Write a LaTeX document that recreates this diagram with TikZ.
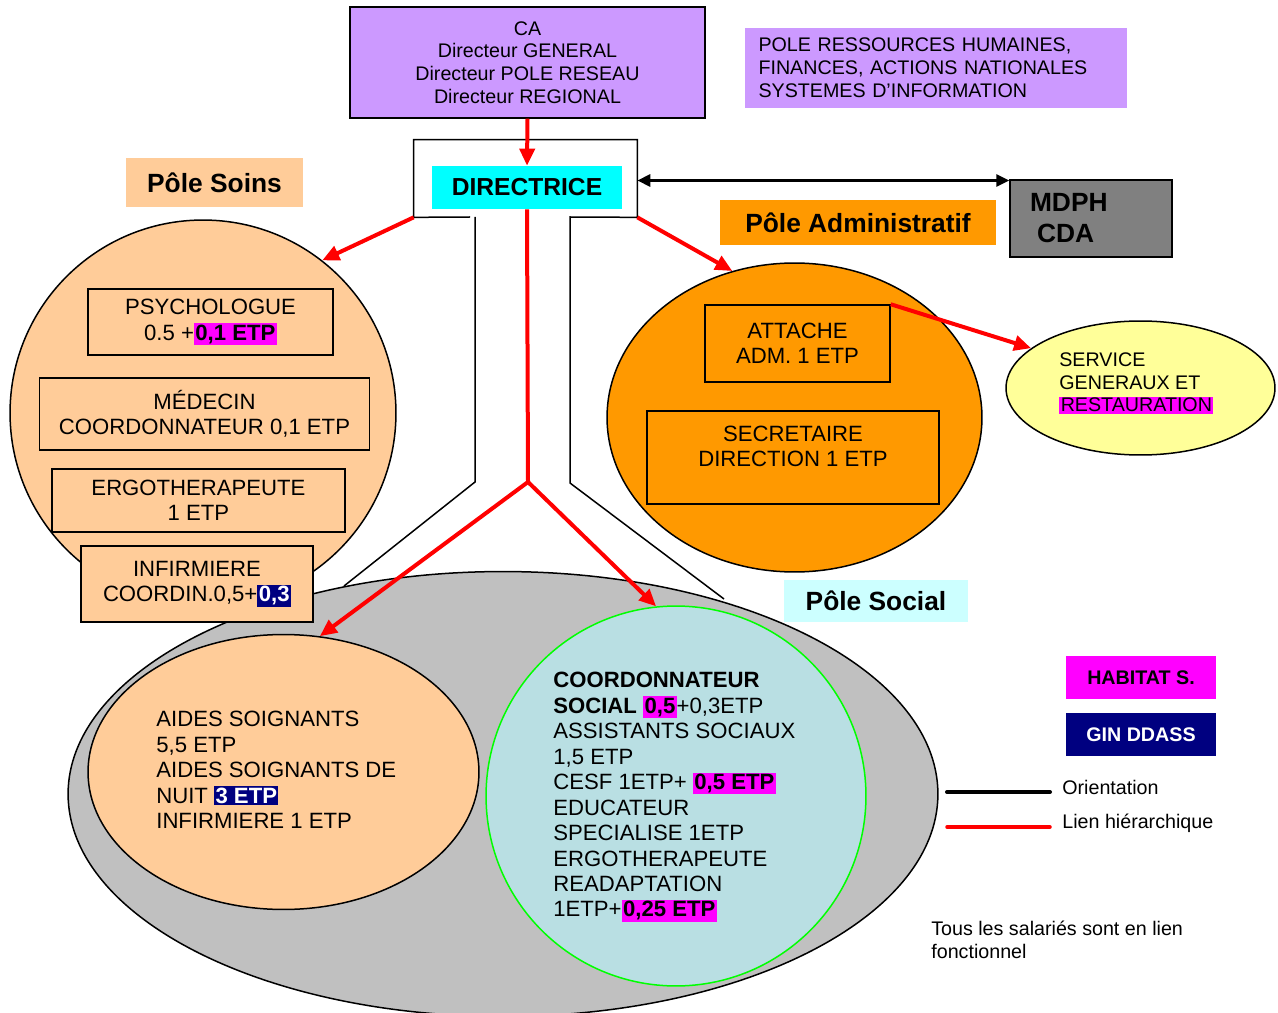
\documentclass[tikz,border=0pt]{standalone}
\usepackage{fontspec}
\setmainfont{Liberation Sans}
\usetikzlibrary{calc}
\usetikzlibrary{arrows.meta}
\usetikzlibrary{shapes.geometric}

\definecolor{mauve}{HTML}{CC99FF}
\definecolor{peche}{HTML}{FFCC99}
\definecolor{orangepole}{HTML}{FF9900}
\definecolor{grisfond}{HTML}{C0C0C0}
\definecolor{bleuclair}{HTML}{B9DFE3}
\definecolor{vertvif}{HTML}{00FF00}
\definecolor{jaunepale}{HTML}{FFFF99}
\definecolor{cyanvif}{HTML}{00FFFF}
\definecolor{cyanpale}{HTML}{CCFFFF}
\definecolor{grismdph}{HTML}{808080}
\definecolor{marine}{HTML}{000080}
\definecolor{rose}{HTML}{FF00FF}

\setlength{\fboxsep}{0.8pt}
\newcommand{\surlig}[1]{\colorbox{rose}{\textbf{#1}}}
\newcommand{\surligb}[1]{\colorbox{marine}{\textcolor{white}{\textbf{#1}}}}

\tikzstyle{boite}  =[draw, line width=0.3mm]
\tikzstyle{hier}   =[draw=red, line width=0.8mm, -{Triangle[length=3.4mm,width=3mm]}]
\tikzstyle{orient} =[line width=0.6mm, {Triangle[length=2.6mm,width=2.4mm]}-{Triangle[length=2.6mm,width=2.4mm]}]
\tikzstyle{texte}  =[font=\fontsize{12.6}{14.5}\selectfont]
\tikzstyle{petit}  =[font=\fontsize{11.2}{13}\selectfont]
\tikzstyle{titre}  =[font=\fontsize{15}{17}\selectfont\bfseries]
\tikzstyle{bloc}   =[inner sep=0, align=left, anchor=west]

\begin{document}
\begin{tikzpicture}[x=0.02cm,y=-0.02cm]
\useasboundingbox (0,0) rectangle (1278,1013);

%%%%%%%%%%%%%%%%%%%%%%%%
%cadre de la direction (en entonnoir)
%%%%%%%%%%%%%%%%%%%%%%%%
\node[minimum width=4.46cm,minimum height=1.54cm,inner sep=0] (cadre) at (525.5,178.5) {};
\draw[boite] (470,217) -- (cadre.south west) -- (cadre.north west) -- (cadre.north east) -- (cadre.south east) -- (570,217) -- (570,483) -- (724,599);
\draw[boite] (475,217) -- (475,482) -- (344,586);

%%%%%%%%%%%%%%%%%%%%%%%%
%pôle social (grande ellipse grise)
%%%%%%%%%%%%%%%%%%%%%%%%
\node[ellipse,boite,fill=grisfond,minimum width=17.4cm,minimum height=8.9cm] (social) at (503,794) {};

%pôle soins
\node[circle,boite,fill=peche,minimum size=7.72cm] (soins) at (203,413) {};
\node[boite,fill=peche,texte,align=center,minimum width=4.9cm,minimum height=1.32cm] (psy) at (210.5,322) {PSYCHOLOGUE\\0.5 +\surlig{0,1 ETP}};
\node[boite,fill=peche,texte,align=center,minimum width=6.6cm,minimum height=1.44cm] (med) at (204.5,414) {MÉDECIN\\COORDONNATEUR 0,1 ETP};
\node[boite,fill=peche,texte,align=center,minimum width=5.86cm,minimum height=1.26cm] (ergo) at (198.5,500.5) {ERGOTHERAPEUTE\\1 ETP};
\node[boite,fill=peche,texte,align=center,minimum width=4.64cm,minimum height=1.52cm] (inf) at (197,584) {INFIRMIERE\\COORDIN.0,5+\surligb{0,3}};

%aides soignants
\node[ellipse,boite,fill=peche,minimum width=7.82cm,minimum height=5.5cm] (aides) at (283.5,772) {};
\node[texte,bloc] (aidestxt) at (156,770) {AIDES SOIGNANTS\\5,5 ETP\\AIDES SOIGNANTS DE\\NUIT \surligb{3 ETP}\\INFIRMIERE 1 ETP};

%travailleurs sociaux
\node[circle,draw=vertvif,line width=0.3mm,fill=bleuclair,minimum size=7.6cm] (socialc) at (676,796) {};
\node[texte,bloc] (socialtxt) at (553,797) {\textbf{COORDONNATEUR}\\\textbf{SOCIAL} \surlig{0,5}+0,3ETP\\ASSISTANTS SOCIAUX\\1,5 ETP\\CESF 1ETP+ \surlig{0,5 ETP}\\EDUCATEUR\\SPECIALISE 1ETP\\ERGOTHERAPEUTE\\READAPTATION\\1ETP+\surlig{0,25 ETP}};

%%%%%%%%%%%%%%%%%%%%%%%%
%pôle administratif
%%%%%%%%%%%%%%%%%%%%%%%%
\node[ellipse,boite,fill=orangepole,minimum width=7.5cm,minimum height=6.18cm] (admin) at (794.5,417.5) {};
\node[boite,fill=orangepole,texte,align=center,minimum width=3.7cm,minimum height=1.54cm] (attache) at (797.5,343.5) {ATTACHE\\ADM. 1 ETP};
\node[boite,fill=orangepole,texte,align=center,minimum width=5.84cm,minimum height=1.86cm] (secr) at (793,457.5) {SECRETAIRE\\DIRECTION 1 ETP\\[-6pt]\strut};
\node[ellipse,boite,fill=jaunepale,minimum width=5.38cm,minimum height=2.68cm] (serv) at (1140.5,388) {};
\node[petit,bloc] (servtxt) at (1059,383) {SERVICE\\GENERAUX ET\\\colorbox{rose}{RESTAURATION}};

%%%%%%%%%%%%%%%%%%%%%%%%
%étiquettes et boîtes du haut
%%%%%%%%%%%%%%%%%%%%%%%%
\node[fill=peche,titre,minimum width=3.54cm,minimum height=0.98cm] (soinslbl) at (214.5,182.5) {Pôle Soins};
\node[fill=orangepole,titre,minimum width=5.52cm,minimum height=0.9cm] (adminlbl) at (858,222.5) {Pôle Administratif};
\node[fill=cyanpale,titre,minimum width=3.68cm,minimum height=0.84cm] (sociallbl) at (876,601) {Pôle Social};

\node[boite,fill=mauve,petit,align=center,minimum width=7.1cm,minimum height=2.22cm] (ca) at (527.5,62.5) {CA\\Directeur GENERAL\\Directeur POLE RESEAU\\Directeur REGIONAL};
\node[fill=mauve,petit,align=left,text width=7.1cm,inner xsep=0.28cm,minimum height=1.6cm] (rh) at (936,68) {POLE RESSOURCES HUMAINES,\\FINANCES, ACTIONS NATIONALES\\SYSTEMES D’INFORMATION};
\node[fill=cyanvif,font=\fontsize{14}{16}\selectfont\bfseries,minimum width=3.8cm,minimum height=0.86cm] (directrice) at (527,187.5) {DIRECTRICE};
\node[boite,fill=grismdph,font=\fontsize{15}{17.6}\selectfont\bfseries,align=left,text width=2.44cm,inner xsep=0.4cm,minimum height=1.54cm] (mdph) at (1091,218.5) {MDPH\\\hspace{4pt}CDA};

%%%%%%%%%%%%%%%%%%%%%%%%
%liens
%%%%%%%%%%%%%%%%%%%%%%%%
\draw[hier] (ca.south) -- (directrice.north);
\draw[hier] (cadre.south west) -- (soins.52);
\draw[hier] (cadre.south east) -- (admin.113);
\coordinate (fourche) at (528,482);
\draw[hier] (directrice.south) -- (fourche) -- (aides.75);
\draw[hier] (fourche) -- (socialc.96);
\draw[hier] (attache.north east) -- (serv.160);
\draw[orient] ($(cadre.east)+(0,2)$) -- ($(cadre.east -| mdph.west)+(0,2)$);

%%%%%%%%%%%%%%%%%%%%%%%%
%légende
%%%%%%%%%%%%%%%%%%%%%%%%
\node[fill=rose,font=\fontsize{11.2}{13}\selectfont\bfseries,minimum width=3cm,minimum height=0.86cm] (habitat) at (1141,677.5) {HABITAT S.};
\node[fill=marine,text=white,font=\fontsize{11.2}{13}\selectfont\bfseries,minimum width=3cm,minimum height=0.86cm] (gin) at (1141,734.5) {GIN DDASS};

\coordinate (l1a) at (947,792);
\coordinate (l1b) at (1050,792);
\draw[line width=0.8mm,line cap=round] (l1a) -- (l1b);
\node[petit,bloc] (legorient) at (1062,787) {Orientation};
\coordinate (l2a) at (947,827);
\coordinate (l2b) at (1050,827);
\draw[red,line width=0.7mm,line cap=round] (l2a) -- (l2b);
\node[petit,bloc] (leglien) at (1062,823) {Lien hiérarchique};

\node[petit,bloc] (note) at (931,940) {Tous les salariés sont en lien\\fonctionnel};

\end{tikzpicture}
\end{document}
